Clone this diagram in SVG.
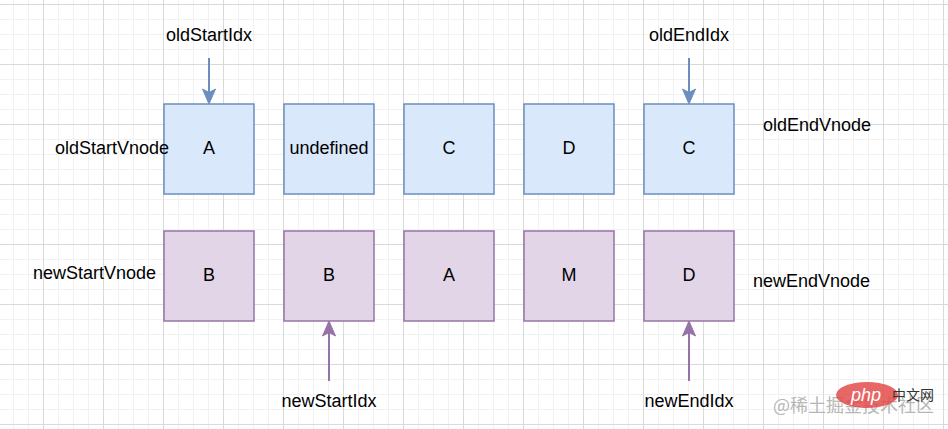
<svg xmlns="http://www.w3.org/2000/svg" width="948" height="429" viewBox="0 0 948 429">
<style>
.t{font-family:"Liberation Sans",Arial,sans-serif;font-size:18px;fill:#000}
.m{text-anchor:middle}
.old{fill:#dae8fc;stroke:#6c8ebf;stroke-width:1.5}
.new{fill:#e1d5e7;stroke:#9673a6;stroke-width:1.5}
.lo{stroke:#6c8ebf;stroke-width:2;fill:none}
.ln{stroke:#9673a6;stroke-width:2;fill:none}
</style>
<defs>
<pattern id="minor" patternUnits="userSpaceOnUse" x="43" y="4" width="15" height="15">
<rect x="0" y="0" width="1" height="15" fill="#f1f1f1"/>
<rect x="0" y="0" width="15" height="1" fill="#f1f1f1"/>
</pattern>
<pattern id="major" patternUnits="userSpaceOnUse" x="43" y="4" width="60" height="60">
<rect x="0" y="0" width="1" height="60" fill="#d9d9d9"/>
<rect x="0" y="0" width="60" height="1" fill="#d9d9d9"/>
</pattern>
</defs>
<rect width="948" height="429" fill="#ffffff"/>
<rect width="948" height="429" fill="url(#minor)"/>
<rect width="948" height="429" fill="url(#major)"/>

<g id="connectors">
<line class="lo" x1="209" y1="58" x2="209" y2="94"/>
<path d="M209,104 L202.5,89 L209,92.5 L215.5,89 Z" fill="#6c8ebf" stroke="#6c8ebf" stroke-width="1"/>
<line class="lo" x1="689" y1="58" x2="689" y2="94"/>
<path d="M689,104 L682.5,89 L689,92.5 L695.5,89 Z" fill="#6c8ebf" stroke="#6c8ebf" stroke-width="1"/>
<line class="ln" x1="329" y1="381" x2="329" y2="331"/>
<path d="M329,321 L322.5,336 L329,332.5 L335.5,336 Z" fill="#9673a6" stroke="#9673a6" stroke-width="1"/>
<line class="ln" x1="689" y1="381" x2="689" y2="331"/>
<path d="M689,321 L682.5,336 L689,332.5 L695.5,336 Z" fill="#9673a6" stroke="#9673a6" stroke-width="1"/>
</g>

<g id="old-A"><rect class="old" x="164" y="104" width="90" height="90"/><text class="t m" x="209" y="154">A</text></g>
<g id="old-undefined"><rect class="old" x="284" y="104" width="90" height="90"/><text class="t m" x="329" y="154">undefined</text></g>
<g id="old-C1"><rect class="old" x="404" y="104" width="90" height="90"/><text class="t m" x="449" y="154">C</text></g>
<g id="old-D"><rect class="old" x="524" y="104" width="90" height="90"/><text class="t m" x="569" y="154">D</text></g>
<g id="old-C2"><rect class="old" x="644" y="104" width="90" height="90"/><text class="t m" x="689" y="154">C</text></g>

<g id="new-B1"><rect class="new" x="164" y="231" width="90" height="90"/><text class="t m" x="209" y="281">B</text></g>
<g id="new-B2"><rect class="new" x="284" y="231" width="90" height="90"/><text class="t m" x="329" y="281">B</text></g>
<g id="new-A"><rect class="new" x="404" y="231" width="90" height="90"/><text class="t m" x="449" y="281">A</text></g>
<g id="new-M"><rect class="new" x="524" y="231" width="90" height="90"/><text class="t m" x="569" y="281">M</text></g>
<g id="new-D"><rect class="new" x="644" y="231" width="90" height="90"/><text class="t m" x="689" y="281">D</text></g>

<g id="labels">
<text class="t m" x="209" y="41">oldStartIdx</text>
<text class="t m" x="689" y="41">oldEndIdx</text>
<text class="t" x="55" y="154">oldStartVnode</text>
<text class="t" x="763" y="131">oldEndVnode</text>
<text class="t" x="33" y="279">newStartVnode</text>
<text class="t" x="753" y="287">newEndVnode</text>
<text class="t m" x="329" y="407">newStartIdx</text>
<text class="t m" x="689" y="407">newEndIdx</text>
</g>

<g id="watermark">
<text x="773" y="412" font-family="'Noto Sans CJK SC',sans-serif" font-size="18" fill="#b0b0b0" opacity="0.9">@稀土掘金技术社区</text>
<ellipse cx="867" cy="395" rx="31" ry="13" fill="#e34b4b" opacity="0.85"/>
<text x="866" y="401" text-anchor="middle" font-family="'Liberation Sans',Arial,sans-serif" font-style="italic" font-size="18" fill="#ffffff">php</text>
<text x="892" y="400" font-family="'Noto Sans CJK SC',sans-serif" font-size="14" fill="#333333">中文网</text>
</g>
</svg>
